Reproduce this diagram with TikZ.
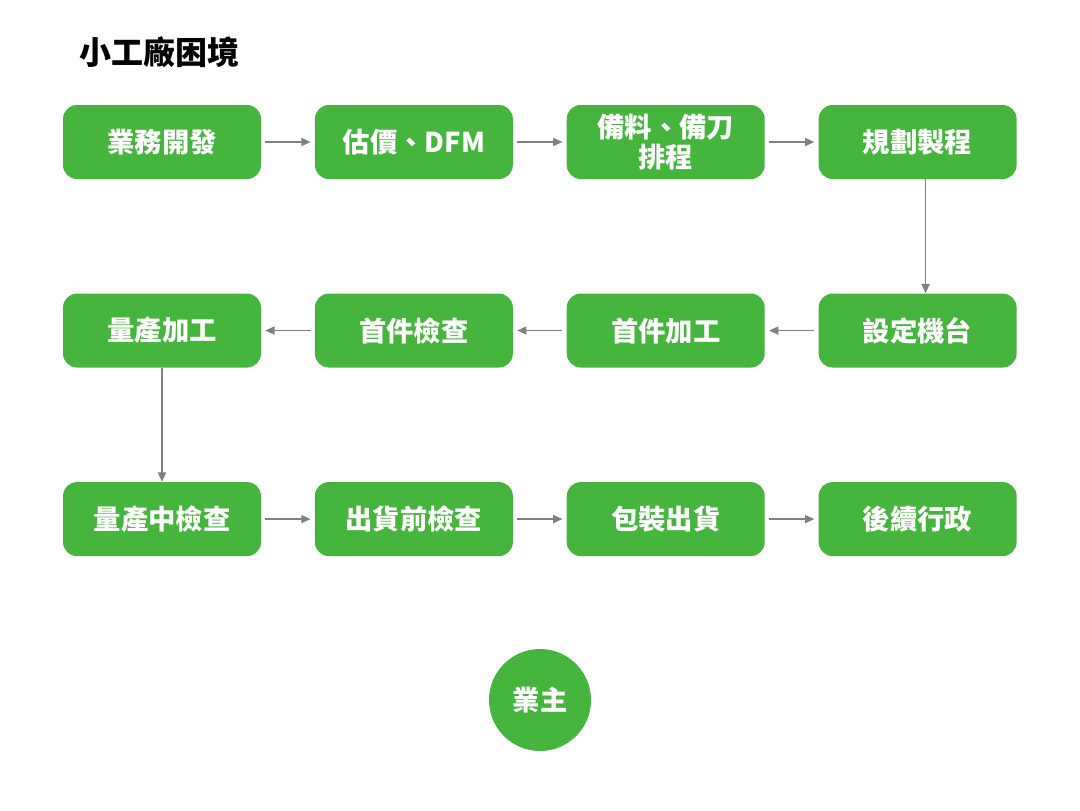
\documentclass[tikz,border=0pt]{standalone}
\usepackage{fontspec}
\setmainfont{Noto Sans CJK TC}
\usetikzlibrary{positioning,arrows.meta}
\definecolor{boxgreen}{HTML}{46B53D}
\definecolor{arrowgray}{HTML}{808080}
\tikzset{
	step box/.style={rectangle, rounded corners=10.5pt, fill=boxgreen, text=white, minimum width=148.5pt, minimum height=55.5pt, inner sep=0, align=center, font=\fontsize{20.5}{22}\selectfont\bfseries},
	owner/.style={circle, fill=boxgreen, text=white, minimum size=76.5pt, inner sep=0, font=\fontsize{20.5}{22}\selectfont\bfseries},
	flow/.style={draw=arrowgray, line width=1.3pt, -{Triangle[length=7pt,width=6pt]}},
	gapflow/.style={flow, shorten <=3pt, shorten >=3pt}
}
\begin{document}
\begin{tikzpicture}[node distance=85.5pt and 40pt]
	\useasboundingbox (0,0) rectangle (810pt,-607.5pt);
	\node [anchor=west, inner sep=0, font=\fontsize{24}{26}\selectfont\bfseries] (title) at (59.5pt,-39pt) {小工廠困境};
	
	% first row
	\node [step box] (sales) at (121.5pt,-106.5pt) {業務開發};
	\node [step box, right=of sales] (quote) {估價、DFM};
	\node [step box, right=of quote] (prep) {備料、備刀\\[0pt]排程};
	\node [step box, right=of prep] (plan) {規劃製程};
	
	% second row
	\node [step box, below=of plan] (setup) {設定機台};
	\node [step box, left=of setup] (firstcut) {首件加工};
	\node [step box, left=of firstcut] (firstcheck) {首件檢查};
	\node [step box, left=of firstcheck] (mass) {量產加工};
	
	% third row
	\node [step box, below=of mass] (midcheck) {量產中檢查};
	\node [step box, right=of midcheck] (precheck) {出貨前檢查};
	\node [step box, right=of precheck] (pack) {包裝出貨};
	\node [step box, right=of pack] (admin) {後續行政};
	
	\node [owner] (client) at (405pt,-525pt) {業主};
	
	\draw [gapflow] (sales) -- (quote);
	\draw [gapflow] (quote) -- (prep);
	\draw [gapflow] (prep) -- (plan);
	\draw [flow] ([xshift=6pt]plan.south) -- ([xshift=6pt]setup.north);
	\draw [gapflow] (setup) -- (firstcut);
	\draw [gapflow] (firstcut) -- (firstcheck);
	\draw [gapflow] (firstcheck) -- (mass);
	\draw [flow] (mass) -- (midcheck);
	\draw [gapflow] (midcheck) -- (precheck);
	\draw [gapflow] (precheck) -- (pack);
	\draw [gapflow] (pack) -- (admin);
\end{tikzpicture}
\end{document}
